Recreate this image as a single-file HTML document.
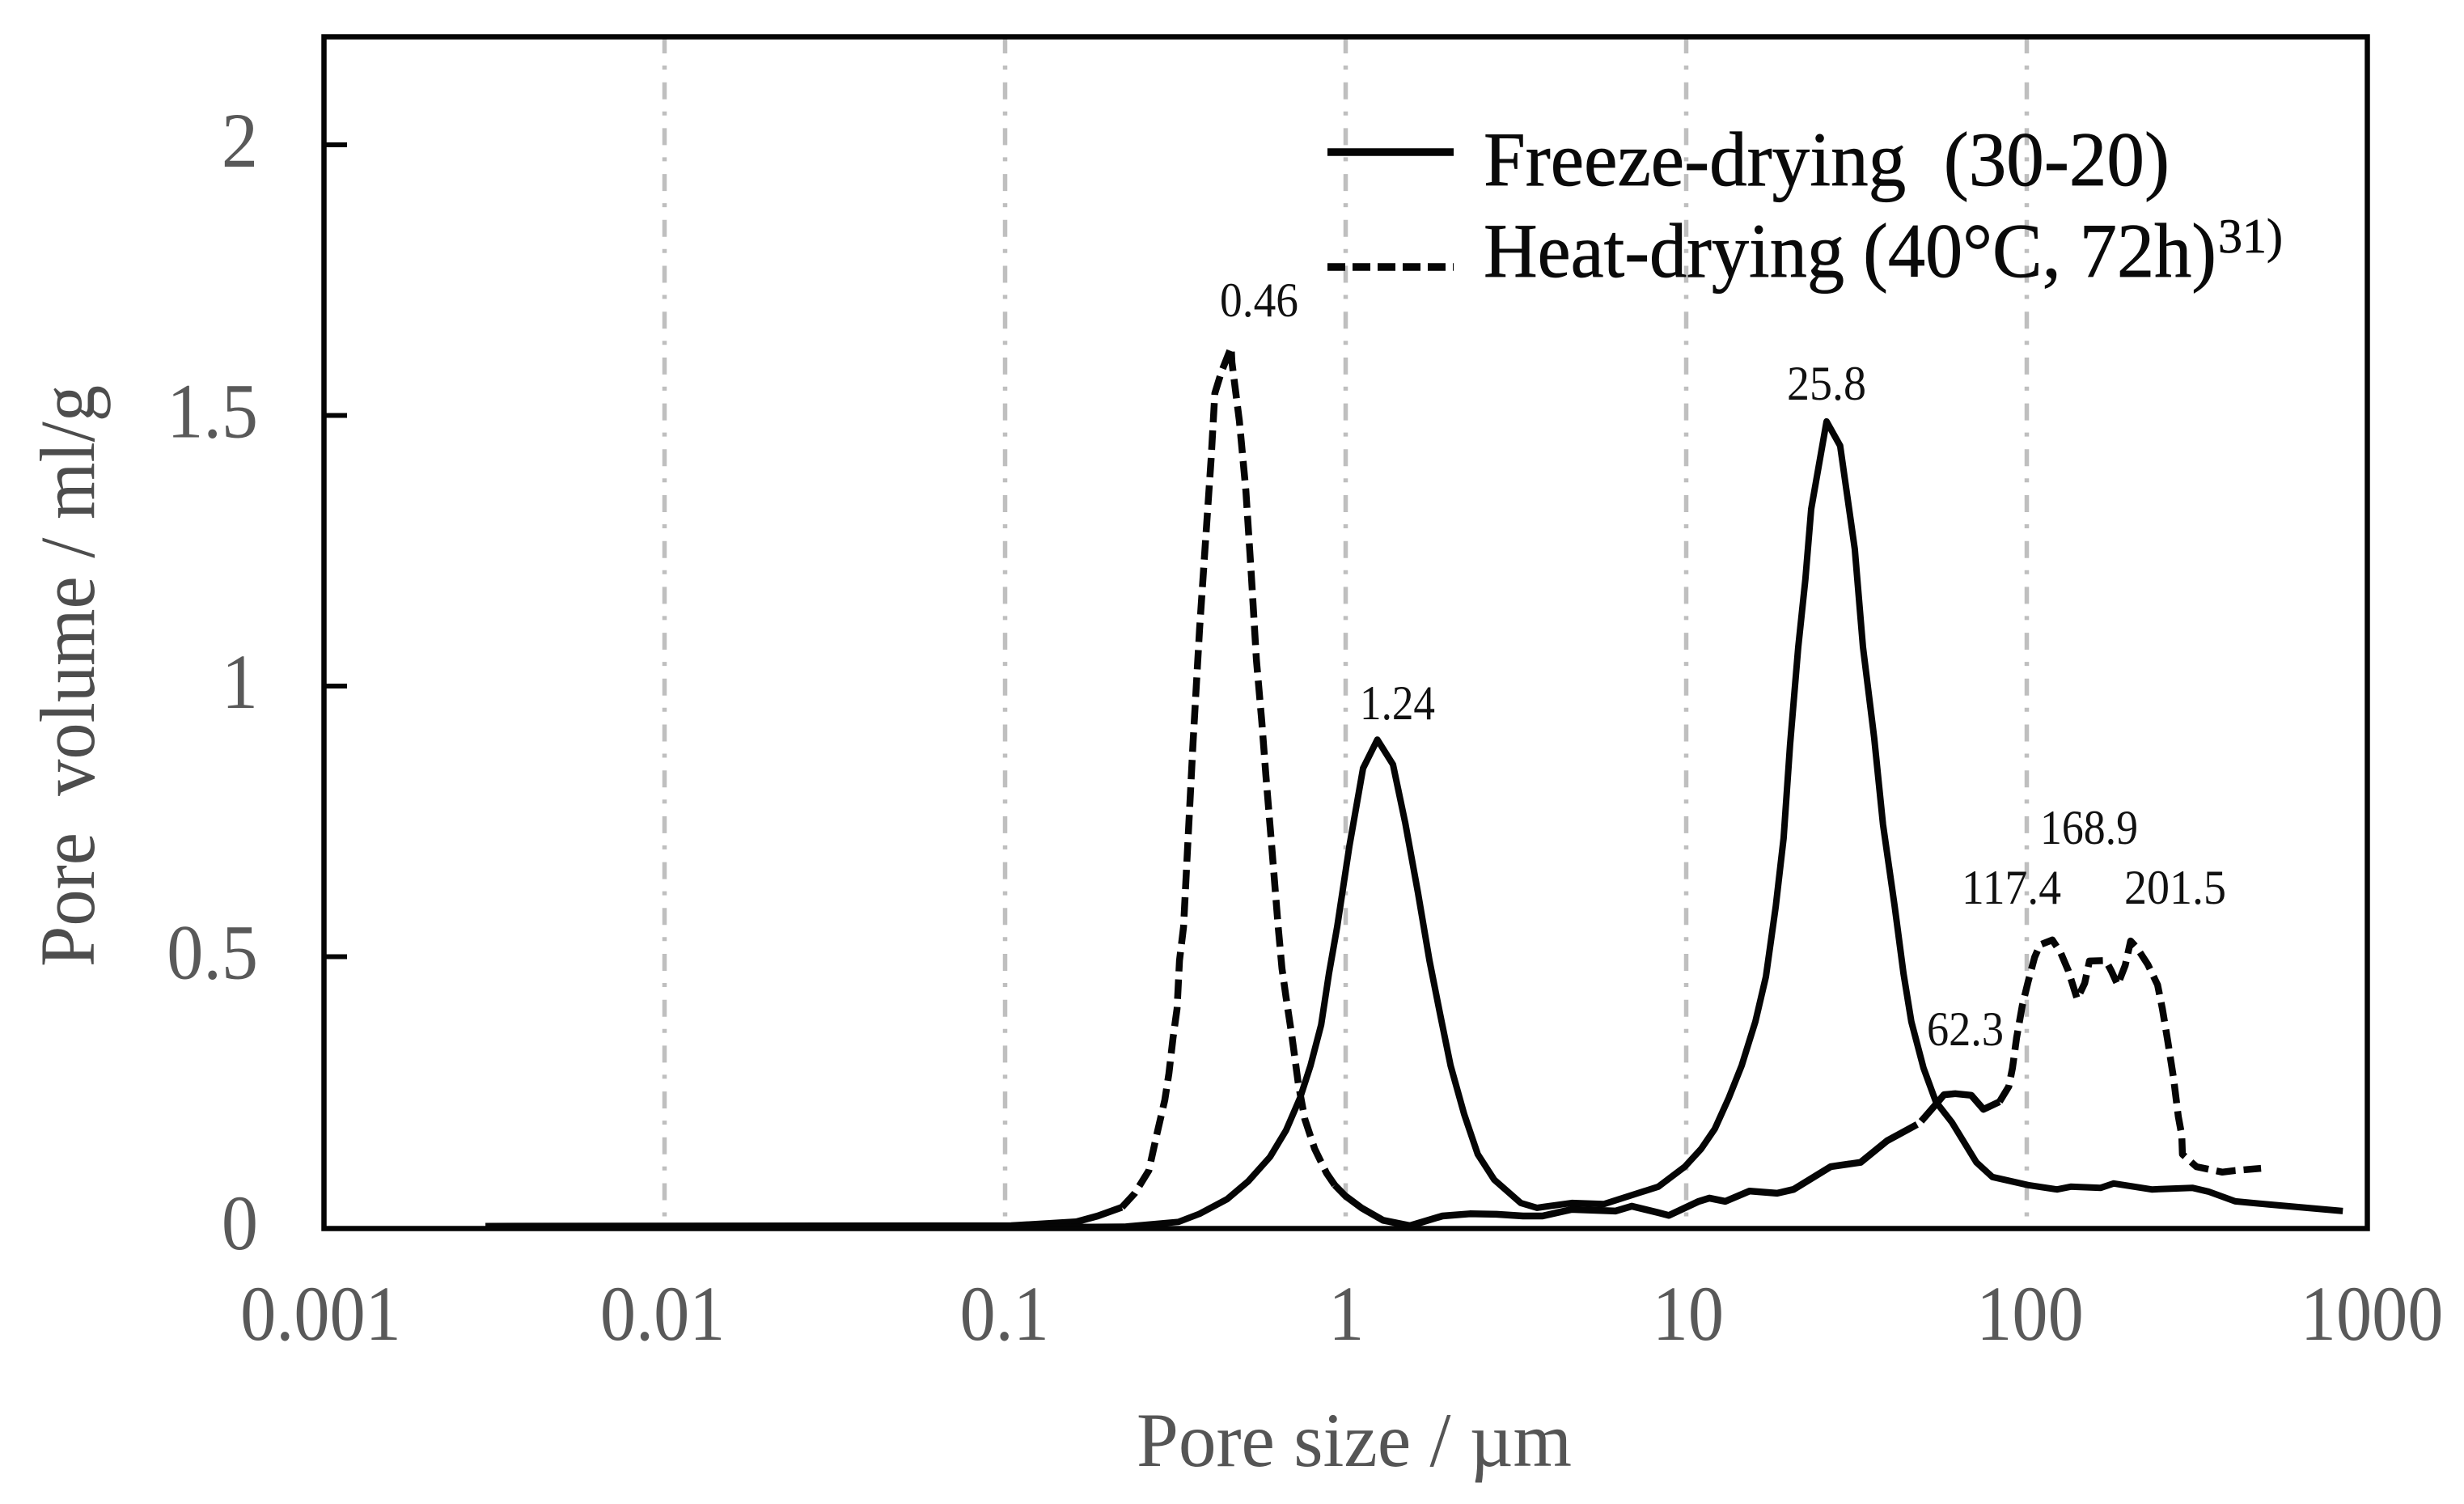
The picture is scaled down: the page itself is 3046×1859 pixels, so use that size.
<!DOCTYPE html>
<html lang="en">
<head>
<meta charset="utf-8">
<title>Pore size distribution</title>
<style>
html,body{margin:0;padding:0;background:#fff;}
svg{display:block;}
text{font-family:"Liberation Serif",serif;white-space:pre;}
.tick{font-size:96px;fill:#595959;}
.peak{font-size:60px;fill:#111;}
.legend{font-size:95px;fill:#0a0a0a;stroke:#0a0a0a;stroke-width:0.7px;}
</style>
</head>
<body>
<svg id="chart" xmlns="http://www.w3.org/2000/svg" width="3046" height="1859" viewBox="0 0 3046 1859">
  <rect x="0" y="0" width="3046" height="1859" fill="#fff"/>
  <g id="grid"></g>
  <g id="series"></g>
  <rect x="400.5" y="45.5" width="2526" height="1473" fill="none" stroke="#050505" stroke-width="6.5"/>
  <g id="ticks"></g>

  <text x="1405" y="1812" font-size="95" fill="#555" textLength="538" lengthAdjust="spacingAndGlyphs">Pore size / µm</text>
  <text transform="translate(116,1195) rotate(-90)" font-size="96" fill="#4d4d4d" textLength="719" lengthAdjust="spacingAndGlyphs">Pore  volume / ml/g</text>

  <g>
    <line x1="1641" y1="188" x2="1797" y2="188" stroke="#050505" stroke-width="9.5"/>
    <text class="legend" x="1834" y="229" textLength="848" lengthAdjust="spacingAndGlyphs">Freeze-drying  (30-20)</text>
    <line x1="1641" y1="330" x2="1797" y2="330" stroke="#050505" stroke-width="9.5" stroke-dasharray="22 9"/>
    <text class="legend" x="1834" y="342" textLength="906" lengthAdjust="spacingAndGlyphs">Heat-drying (40°C, 72h)</text>
    <text class="legend" x="2742" y="312" style="font-size:60px" textLength="80" lengthAdjust="spacingAndGlyphs">31)</text>
  </g>

  <g>
    <text class="peak" x="1508" y="391" textLength="97" lengthAdjust="spacingAndGlyphs">0.46</text>
    <text class="peak" x="1681" y="889" textLength="93" lengthAdjust="spacingAndGlyphs">1.24</text>
    <text class="peak" x="2209" y="494" textLength="98" lengthAdjust="spacingAndGlyphs">25.8</text>
    <text class="peak" x="2382" y="1292" textLength="95" lengthAdjust="spacingAndGlyphs">62.3</text>
    <text class="peak" x="2425" y="1117" textLength="123" lengthAdjust="spacingAndGlyphs">117.4</text>
    <text class="peak" x="2522" y="1043" textLength="121" lengthAdjust="spacingAndGlyphs">168.9</text>
    <text class="peak" x="2626" y="1117" textLength="126" lengthAdjust="spacingAndGlyphs">201.5</text>
  </g>
</svg>
<script>
// x values are log10(pore size / µm); y values are pore volume in ml/g
const xTickExponents = [-3, -2, -1, 0, 1, 2, 3];
const xTickLabels = ["0.001", "0.01", "0.1", "1", "10", "100", "1000"];
const yTickValues = [0, 0.5, 1, 1.5, 2];
const yTickLabels = ["0", "0.5", "1", "1.5", "2"];

const freezeLogSize = [-0.911,-0.650,-0.491,-0.429,-0.348,-0.286,-0.222,-0.175,-0.134,-0.103,-0.072,-0.049,-0.025,0.011,0.051,0.093,0.139,0.175,0.212,0.246,0.277,0.308,0.348,0.388,0.436,0.514,0.562,0.664,0.759,0.918,0.996,1.044,1.084,1.125,1.163,1.203,1.234,1.263,1.286,1.305,1.329,1.350,1.367,1.412,1.452,1.495,1.519,1.552,1.578,1.612,1.638,1.661,1.697,1.733,1.780,1.852,1.899,2.004,2.089,2.129,2.217,2.255,2.367,2.486,2.533,2.612,2.714,2.928];
const freezeVolume = [0.000,0.001,0.010,0.025,0.052,0.085,0.130,0.179,0.239,0.299,0.374,0.469,0.555,0.704,0.848,0.901,0.855,0.747,0.619,0.493,0.395,0.299,0.209,0.135,0.088,0.045,0.036,0.045,0.043,0.075,0.112,0.145,0.182,0.239,0.299,0.380,0.463,0.593,0.719,0.892,1.072,1.197,1.327,1.489,1.444,1.253,1.072,0.904,0.744,0.593,0.469,0.380,0.294,0.232,0.194,0.120,0.093,0.078,0.070,0.075,0.073,0.081,0.070,0.073,0.066,0.048,0.042,0.030];

const heatLogSize = [-2.526,-0.982,-0.792,-0.728,-0.657,-0.619,-0.578,-0.555,-0.531,-0.519,-0.507,-0.495,-0.488,-0.476,-0.464,-0.448,-0.429,-0.412,-0.395,-0.384,-0.365,-0.336,-0.334,-0.312,-0.293,-0.277,-0.262,-0.246,-0.234,-0.217,-0.198,-0.187,-0.175,-0.158,-0.139,-0.120,-0.091,-0.056,-0.032,-0.001,0.046,0.110,0.189,0.284,0.365,0.443,0.521,0.578,0.664,0.792,0.840,0.918,0.949,1.037,1.068,1.115,1.186,1.267,1.315,1.424,1.512,1.590,1.678,1.690,1.733,1.757,1.790,1.837,1.873,1.920,1.947,1.958,1.970,1.987,2.004,2.023,2.039,2.075,2.099,2.122,2.148,2.170,2.184,2.232,2.248,2.267,2.289,2.305,2.324,2.355,2.384,2.398,2.414,2.431,2.445,2.455,2.457,2.498,2.574,2.612,2.688];
const heatVolume = [0.002,0.003,0.010,0.021,0.037,0.063,0.105,0.170,0.235,0.284,0.350,0.404,0.493,0.555,0.704,0.897,1.105,1.262,1.420,1.541,1.580,1.626,1.598,1.490,1.362,1.205,1.048,0.933,0.833,0.704,0.555,0.478,0.425,0.354,0.265,0.200,0.145,0.100,0.078,0.058,0.036,0.013,0.003,0.021,0.025,0.024,0.021,0.021,0.033,0.030,0.039,0.027,0.022,0.048,0.054,0.048,0.067,0.063,0.070,0.112,0.120,0.160,0.190,0.196,0.227,0.245,0.247,0.244,0.218,0.232,0.260,0.294,0.350,0.410,0.454,0.499,0.522,0.531,0.508,0.474,0.422,0.451,0.492,0.493,0.474,0.448,0.484,0.529,0.516,0.486,0.448,0.404,0.344,0.275,0.205,0.170,0.135,0.112,0.102,0.105,0.109];

// log10-size ranges over which the heat-drying trace is drawn solid or dashed
const heatSolidRanges = [[-2.526,-0.657],[-0.032,1.678],[1.690,1.920]];
const heatDashedRanges = [[-0.657,-0.032],[1.920,2.688]];

const SVG_NS = "http://www.w3.org/2000/svg";
function xScale(logValue) { return 1663.5 + 421 * logValue; }
function yScale(value) { return 1517 - 669 * value; }

function sectionPath(xs, ys, lo, hi) {
  let d = "";
  for (let i = 0; i < xs.length; i++) {
    if (xs[i] >= lo && xs[i] <= hi) {
      d += (d ? "L" : "M") + xScale(xs[i]).toFixed(1) + " " + yScale(ys[i]).toFixed(1);
    }
  }
  return d;
}

const gridGroup = document.getElementById("grid");
xTickExponents.slice(1, -1).forEach(function (exp) {
  const line = document.createElementNS(SVG_NS, "line");
  
  
  line.setAttribute("x1", xScale(exp));
  line.setAttribute("x2", xScale(exp));
  line.setAttribute("y1", 45);
  line.setAttribute("y2", 1505);
  line.setAttribute("stroke", "#bfbfbf");
  line.setAttribute("stroke-width", 5.5);
  line.setAttribute("stroke-dasharray", "21 15 5 15.7");
  gridGroup.appendChild(line);
});

const tickGroup = document.getElementById("ticks");
xTickExponents.forEach(function (exp, i) {
  const label = document.createElementNS(SVG_NS, "text");
  
  
  label.setAttribute("class", "tick");
  label.setAttribute("text-anchor", "middle");
  label.setAttribute("transform", "translate(" + (xScale(exp) - 4 + i * 1.6) + ",1656) scale(0.92,1)");
  label.textContent = xTickLabels[i];
  tickGroup.appendChild(label);
});
yTickValues.forEach(function (value, i) {
  const y = yScale(value);
  if (value > 0) {
    const tick = document.createElementNS(SVG_NS, "line");
    
    
    tick.setAttribute("x1", 400);
    tick.setAttribute("x2", 429);
    tick.setAttribute("y1", y);
    tick.setAttribute("y2", y);
    tick.setAttribute("stroke", "#050505");
    tick.setAttribute("stroke-width", 6);
    tickGroup.appendChild(tick);
  }
  const label = document.createElementNS(SVG_NS, "text");
  
  
  label.setAttribute("class", "tick");
  label.setAttribute("text-anchor", "end");
  label.setAttribute("transform", "translate(319," + (y + 27) + ") scale(0.94,1)");
  label.textContent = yTickLabels[i];
  tickGroup.appendChild(label);
});

const seriesGroup = document.getElementById("series");
heatSolidRanges.forEach(function (range) {
  const path = document.createElementNS(SVG_NS, "path");
  
  
  path.setAttribute("d", sectionPath(heatLogSize, heatVolume, range[0], range[1]));
  path.setAttribute("fill", "none");
  path.setAttribute("stroke", "#050505");
  path.setAttribute("stroke-width", 8.5);
  path.setAttribute("stroke-linejoin", "round");
  seriesGroup.appendChild(path);
});
heatDashedRanges.forEach(function (range) {
  const path = document.createElementNS(SVG_NS, "path");
  
  
  path.setAttribute("d", sectionPath(heatLogSize, heatVolume, range[0], range[1]));
  path.setAttribute("fill", "none");
  path.setAttribute("stroke", "#050505");
  path.setAttribute("stroke-width", 8.5);
  path.setAttribute("stroke-linejoin", "round");
  path.setAttribute("stroke-dasharray", "24 10");
  seriesGroup.appendChild(path);
});
const freezePath = document.createElementNS(SVG_NS, "path");


freezePath.setAttribute("d", sectionPath(freezeLogSize, freezeVolume, -Infinity, Infinity));
freezePath.setAttribute("fill", "none");
freezePath.setAttribute("stroke", "#050505");
freezePath.setAttribute("stroke-width", 8);
freezePath.setAttribute("stroke-linejoin", "round");
seriesGroup.appendChild(freezePath);
</script>
</body>
</html>
